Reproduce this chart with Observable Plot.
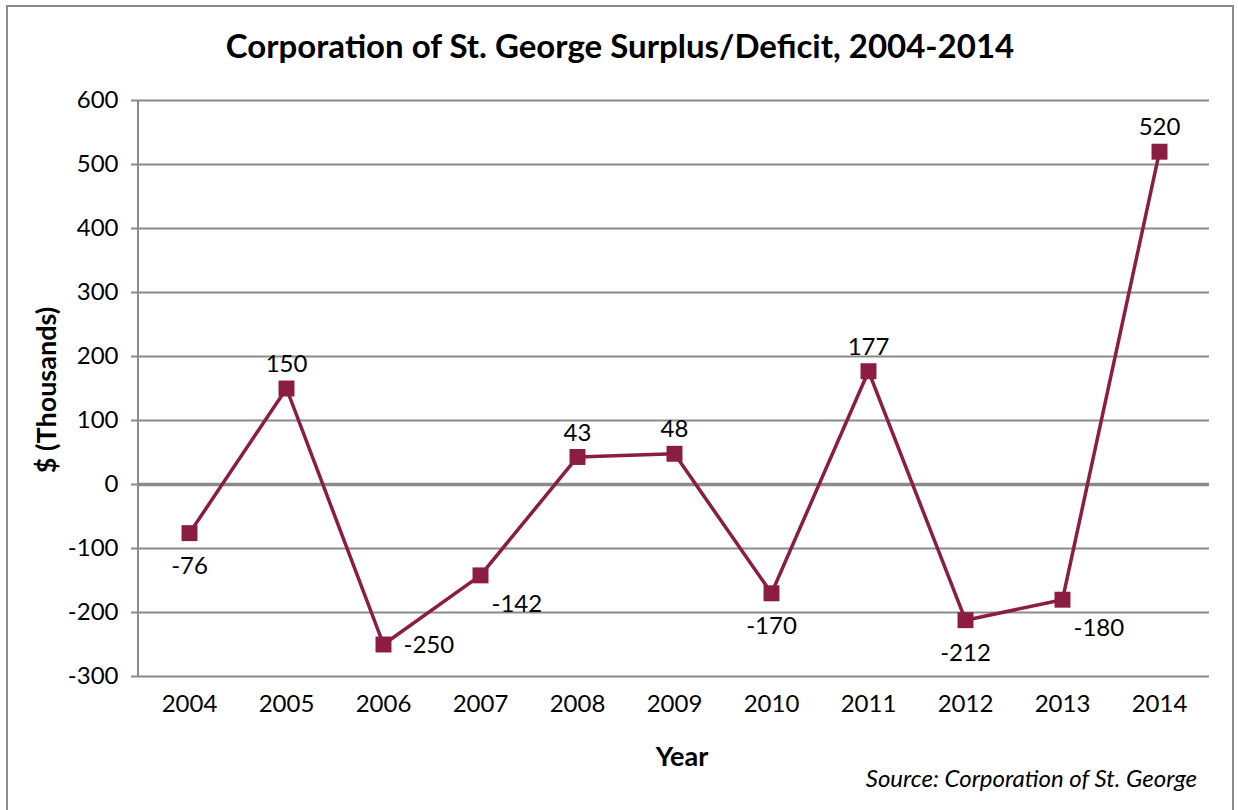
<!DOCTYPE html>
<html>
<head>
<meta charset="utf-8">
<script src="https://cdn.jsdelivr.net/npm/d3@7"></script>
<script src="https://cdn.jsdelivr.net/npm/@observablehq/plot@0.6"></script>
<style>
  html, body { margin: 0; padding: 0; background: #fff; }
  #wrap { position: relative; width: 1238px; height: 810px; overflow: hidden; font-family: Lato, "Open Sans", sans-serif; color: #000; }
  #border { position: absolute; left: 6px; top: 5px; width: 1228px; height: 820px; border: 2px solid #8c8c8c; box-sizing: border-box; }
  #chart { position: absolute; left: 0; top: 0; }
  .title { position: absolute; left: 0; width: 1240px; top: 25px; text-align: center; font-weight: bold; font-size: 33px; }
  .ylab { position: absolute; left: 45px; top: 390px; transform: translate(-50%, -50%) rotate(-90deg); font-weight: bold; font-size: 27px; white-space: nowrap; }
  .xlab { position: absolute; left: 682px; top: 739px; transform: translateX(-50%); font-weight: bold; font-size: 27px; }
  .src { position: absolute; right: 41px; top: 763px; font-style: italic; font-size: 24px; }
</style>
</head>
<body>
<div id="wrap">
  <div id="border"></div>
  <div id="chart"></div>
  <div class="title">Corporation of St. George Surplus/Deficit, 2004-2014</div>
  <div class="ylab">$ (Thousands)</div>
  <div class="xlab">Year</div>
  <div class="src">Source: Corporation of St. George</div>
</div>
<script>
const years = ["2004","2005","2006","2007","2008","2009","2010","2011","2012","2013","2014"];
const values = [-76, 150, -250, -142, 43, 48, -170, 177, -212, -180, 520];
const placement = ["below","above","right","belowRight","above","above","below","above","below","belowRight","above"];
const yTicks = [-300, -200, -100, 0, 100, 200, 300, 400, 500, 600];

const data = years.map((y, i) => ({year: y, value: values[i], place: placement[i]}));
const offsets = {
  above: {dx: 0, dy: -24, anchor: "middle"},
  below: {dx: 0, dy: 33, anchor: "middle"},
  right: {dx: 20, dy: 1, anchor: "start"},
  belowRight: {dx: 11, dy: 29, anchor: "start"}
};
const lineColor = "#8b1c42";
const grid = "#8a8a8a";

const yAxisLine = (index, scales, values, dims) => {
  const l = document.createElementNS("http://www.w3.org/2000/svg", "line");
  l.setAttribute("x1", dims.marginLeft);
  l.setAttribute("x2", dims.marginLeft);
  l.setAttribute("y1", dims.marginTop);
  l.setAttribute("y2", dims.height - dims.marginBottom);
  l.setAttribute("stroke", grid);
  l.setAttribute("stroke-width", 2);
  return l;
};

const labelMarks = Object.keys(offsets).map(k =>
  Plot.text(data.filter(d => d.place === k), {
    x: "year", y: "value", text: d => String(d.value),
    dx: offsets[k].dx, dy: offsets[k].dy, textAnchor: offsets[k].anchor,
    fontSize: 24, fill: "#000"
  })
);

const chart = Plot.plot({
  width: 1238,
  height: 810,
  marginTop: 100,
  marginBottom: 134,
  marginLeft: 138,
  marginRight: 29,
  style: {fontFamily: "Lato, 'Open Sans', sans-serif", background: "transparent", color: "#000"},
  x: {type: "point", domain: years, padding: 0.5, label: null},
  y: {domain: [-300, 600], label: null},
  marks: [
    Plot.ruleY(yTicks.filter(t => t !== 0), {stroke: grid, strokeWidth: 2}),
    Plot.ruleY([0], {stroke: grid, strokeWidth: 3.5}),
    yAxisLine,
    Plot.axisY({ticks: yTicks, tickFormat: d => String(d), tickSize: 7, tickPadding: 13, stroke: grid, strokeWidth: 2, fontSize: 24, fill: "#000", label: null}),
    Plot.axisX({tickSize: 0, tickPadding: 18, fontSize: 24, fill: "#000", label: null}),
    Plot.line(data, {x: "year", y: "value", stroke: lineColor, strokeWidth: 3.5}),
    Plot.dot(data, {x: "year", y: "value", symbol: "square", r: 9, fill: lineColor, stroke: "none"}),
    ...labelMarks
  ]
});
document.getElementById("chart").appendChild(chart);
</script>
</body>
</html>
